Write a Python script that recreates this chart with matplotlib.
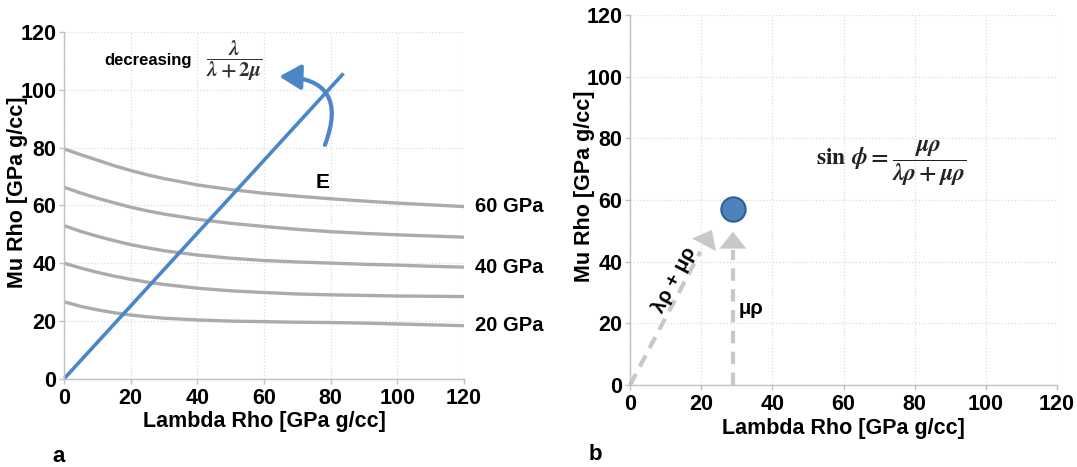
import matplotlib
matplotlib.use("Agg")
import matplotlib.pyplot as plt
from matplotlib.patches import FancyArrowPatch

plt.rcParams['font.family'] = ['Liberation Sans', 'DejaVu Sans']
plt.rcParams['font.weight'] = 'bold'
plt.rcParams['mathtext.fontset'] = 'stix'

# constant-E curves (Lambda Rho vs Mu Rho)
lam = [0, 5, 10, 15, 20, 25, 30, 40, 50, 60, 70, 80, 90, 100, 110, 120]
e_60 = [79.6, 77.6, 75.7, 73.8, 72.1, 70.6, 69.3, 67.1, 65.5, 64.2, 63.2, 62.3, 61.5, 60.8, 60.2, 59.6]
e_50 = [66.3, 64.3, 62.5, 60.9, 59.4, 58.1, 57.0, 55.2, 53.8, 52.7, 51.7, 50.9, 50.3, 49.8, 49.4, 49.0]
e_40 = [53.0, 51.0, 49.3, 47.8, 46.4, 45.3, 44.3, 42.8, 41.7, 40.9, 40.4, 40.0, 39.6, 39.3, 38.9, 38.6]
e_30 = [40.0, 38.3, 36.8, 35.5, 34.4, 33.4, 32.6, 31.3, 30.4, 29.8, 29.3, 29.0, 28.8, 28.6, 28.5, 28.4]
e_20 = [26.6, 25.0, 23.8, 22.8, 22.0, 21.4, 20.9, 20.3, 19.9, 19.7, 19.5, 19.4, 19.2, 18.9, 18.6, 18.3]
e_curves = [e_60, e_50, e_40, e_30, e_20]
e_labels = {'60 GPa': e_60[-1], '40 GPa': e_40[-1], '20 GPa': e_20[-1]}

# blue trend line (constant lambda/(lambda+2mu))
line_x = [0.5, 83.5]
line_y = [0.5, 105.3]

# panel b point and its vectors
pt_lr = 28.9
pt_mr = 57.0
diag_tip = (23.0, 50.3)
vert_tip = (28.9, 49.7)

ticks = [0, 20, 40, 60, 80, 100, 120]
blue = '#4a86c8'
grey = '#ababab'
light = '#c8c8c8'


def style_axes(ax):
    ax.set_xlim(0, 120)
    ax.set_ylim(0, 120)
    ax.set_xticks(ticks)
    ax.set_yticks(ticks)
    ax.grid(True, color='#dcdcdc', linestyle=':', linewidth=0.9)
    ax.set_axisbelow(True)
    for s in ['top', 'right']:
        ax.spines[s].set_visible(False)
    for s in ['left', 'bottom']:
        ax.spines[s].set_color('#c0c0c0')
        ax.spines[s].set_linewidth(1.0)
    ax.tick_params(axis='both', colors='#c0c0c0', labelcolor='black',
                   labelsize=15.5, length=3.5, width=1.0)
    ax.tick_params(axis='x', pad=3)
    ax.tick_params(axis='y', pad=2)
    for lab in ax.get_xticklabels() + ax.get_yticklabels():
        lab.set_fontweight('bold')
    ax.set_xlabel('Lambda Rho [GPa g/cc]', fontsize=15.5, fontweight='bold', labelpad=2)
    ax.set_ylabel('Mu Rho [GPa g/cc]', fontsize=15.5, fontweight='bold')


fig = plt.figure(figsize=(10.77, 4.67), dpi=100)
ax1 = fig.add_axes([0.0594, 0.1895, 0.3714, 0.7413])
ax2 = fig.add_axes([0.585, 0.1756, 0.3965, 0.7923])

# ---- panel a
style_axes(ax1)
ax1.yaxis.set_label_coords(-0.09, 0.537)
for c in e_curves:
    ax1.plot(lam, c, color=grey, linewidth=2.4, solid_capstyle='butt')
ax1.plot(line_x, line_y, color=blue, linewidth=2.6, clip_on=False)

for txt, yv in e_labels.items():
    ax1.text(123.3, yv, txt, fontsize=14.5, fontweight='bold', va='center', ha='left')
ax1.text(77.6, 67.9, 'E', fontsize=15, fontweight='bold', ha='center', va='center')

ax1.text(12.2, 110.2, 'decreasing', fontsize=12, fontweight='bold', ha='left', va='center')
ax1.text(51.2, 110.2, r'$\dfrac{\lambda}{\lambda+2\mu}$', fontsize=15, ha='center',
         va='center', color='#333333', fontweight='normal')

curl = FancyArrowPatch((78.3, 81.0), (64.6, 104.7), connectionstyle='arc3,rad=0.7',
                       arrowstyle='-|>,head_length=0.65,head_width=0.38',
                       mutation_scale=20, color=blue, linewidth=3.0,
                       shrinkA=0, shrinkB=0, clip_on=False)
ax1.add_patch(curl)

# ---- panel b
style_axes(ax2)
ax2.yaxis.set_label_coords(-0.082, 0.536)

ax2.plot([0, diag_tip[0] * 0.86], [0, diag_tip[1] * 0.86], color=light, linewidth=3.0,
         dashes=(3, 2), clip_on=False)
ax2.plot([vert_tip[0], vert_tip[0]], [0, vert_tip[1] * 0.88], color=light, linewidth=3.0,
         dashes=(3, 2), clip_on=False)
ax2.annotate('', xy=diag_tip, xytext=(diag_tip[0] * 0.8, diag_tip[1] * 0.8),
             arrowprops=dict(arrowstyle='-|>,head_length=0.6,head_width=0.48',
                             mutation_scale=20, color=light, linewidth=0.1,
                             shrinkA=0, shrinkB=0))
ax2.annotate('', xy=vert_tip, xytext=(vert_tip[0], vert_tip[1] * 0.8),
             arrowprops=dict(arrowstyle='-|>,head_length=0.6,head_width=0.48',
                             mutation_scale=20, color=light, linewidth=0.1,
                             shrinkA=0, shrinkB=0))

ax2.plot([pt_lr], [pt_mr], 'o', markersize=17.5, markerfacecolor='#4f81bd',
         markeredgecolor='#2f5f9a', markeredgewidth=1.5, zorder=5)

ax2.text(12.6, 34.1, 'λρ + μρ', fontsize=14.5, fontweight='bold', rotation=62,
         ha='center', va='center', rotation_mode='anchor')
ax2.text(30.4, 24.9, 'μρ', fontsize=14.5, fontweight='bold', ha='left', va='center')
ax2.text(73.4, 71.9, r'$\sin\,\phi = \dfrac{\mu\rho}{\lambda\rho + \mu\rho}$',
         fontsize=17, ha='center', va='center', color='#222222', fontweight='normal')

fig.text(58.5 / 1077, 1 - 456 / 467, 'a', fontsize=16, fontweight='bold',
         ha='center', va='center')
fig.text(595 / 1077, 1 - 455 / 467, 'b', fontsize=16, fontweight='bold',
         ha='center', va='center')

fig.savefig('out.png', dpi=100)
